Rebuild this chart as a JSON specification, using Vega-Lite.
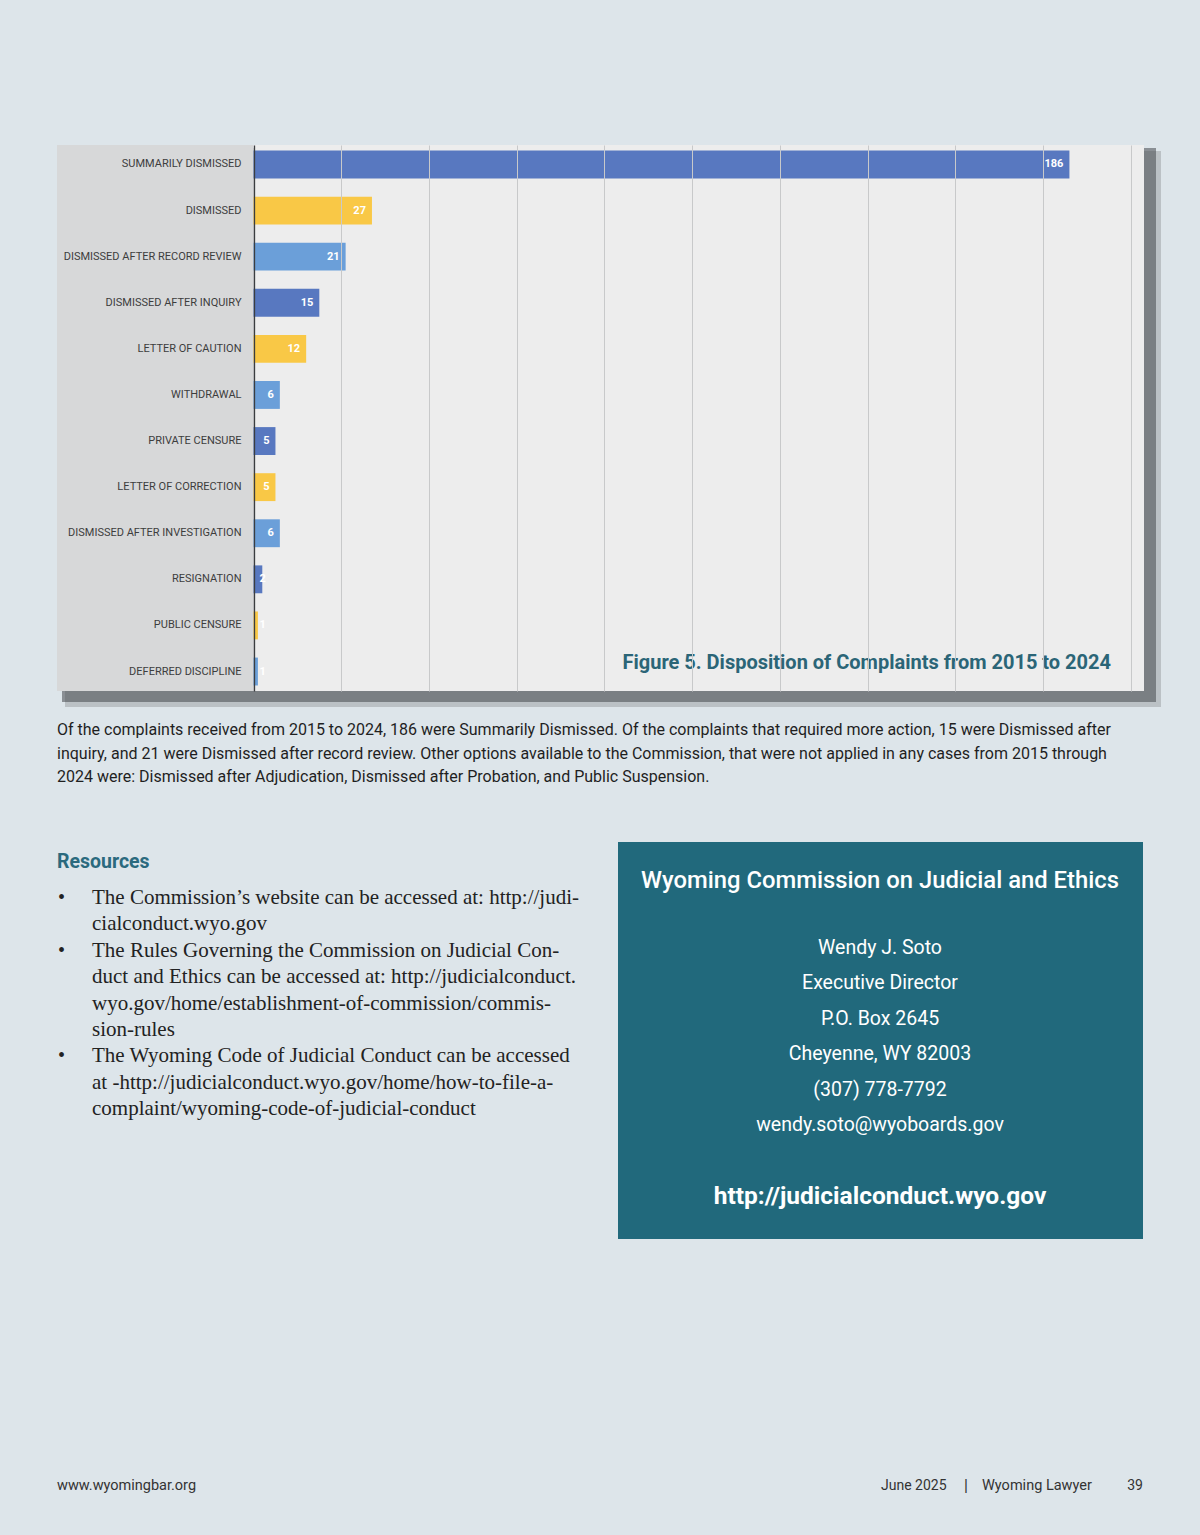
{
  "$schema": "https://vega.github.io/schema/vega-lite/v6.json",
  "autosize": {"type": "none"},
  "width": 1087,
  "height": 546,
  "padding": {"left": 57, "top": 145, "right": 56, "bottom": 844},
  "background": "#dde5ea",
  "config": {"view": {"stroke": null}},
  "data": {"values": [
    {"category": "SUMMARILY DISMISSED", "count": 186},
    {"category": "DISMISSED", "count": 27},
    {"category": "DISMISSED AFTER RECORD REVIEW", "count": 21},
    {"category": "DISMISSED AFTER INQUIRY", "count": 15},
    {"category": "LETTER OF CAUTION", "count": 12},
    {"category": "WITHDRAWAL", "count": 6},
    {"category": "PRIVATE CENSURE", "count": 5},
    {"category": "LETTER OF CORRECTION", "count": 5},
    {"category": "DISMISSED AFTER INVESTIGATION", "count": 6},
    {"category": "RESIGNATION", "count": 2},
    {"category": "PUBLIC CENSURE", "count": 1},
    {"category": "DEFERRED DISCIPLINE", "count": 1}
  ]},
  "layer": [
    {
      "data": {"values": [{}]},
      "mark": {"type": "rect", "color": "#7a7d81", "opacity": 0.35},
      "encoding": {"x": {"value": 8}, "x2": {"value": 1104}, "y": {"value": 6}, "y2": {"value": 562}}
    },
    {
      "data": {"values": [{}]},
      "mark": {"type": "rect", "color": "#45484c", "opacity": 0.55},
      "encoding": {"x": {"value": 5}, "x2": {"value": 1099}, "y": {"value": 3}, "y2": {"value": 557}}
    },
    {
      "data": {"values": [{}]},
      "mark": {"type": "rect", "color": "#d7d8d9"},
      "encoding": {"x": {"value": 0}, "x2": {"value": 196.5}, "y": {"value": 0}, "y2": {"value": 546}}
    },
    {
      "data": {"values": [{}]},
      "mark": {"type": "rect", "color": "#ededed"},
      "encoding": {"x": {"value": 196.5}, "x2": {"value": 1087}, "y": {"value": 0}, "y2": {"value": 546}}
    },
    {
      "data": {"values": [{}]},
      "mark": {"type": "rect", "color": "#21697c"},
      "encoding": {"x": {"value": 561}, "x2": {"value": 1086}, "y": {"value": 697}, "y2": {"value": 1094}}
    },
    {
      "mark": {"type": "bar"},
      "encoding": {
        "y": {"field": "category", "type": "nominal", "sort": null, "axis": null,
          "scale": {"type": "band", "paddingInner": 0.395, "paddingOuter": 0.12}},
        "x": {"field": "count", "type": "quantitative",
          "scale": {"domain": [-44.8, 203], "nice": false},
          "axis": {"values": [0, 20, 40, 60, 80, 100, 120, 140, 160, 180, 200], "grid": true, "labels": false, "ticks": false, "domain": false, "title": null, "zindex": 1,
            "gridColor": {"condition": {"test": "datum.value === 0", "value": "#3a3d40"}, "value": "#c8c9ca"},
            "gridWidth": {"condition": {"test": "datum.value === 0", "value": 1.3}, "value": 1}, "gridOpacity": 1}},
        "color": {"field": "category", "type": "nominal", "legend": null,
          "scale": {"domain": ["SUMMARILY DISMISSED", "DISMISSED", "DISMISSED AFTER RECORD REVIEW", "DISMISSED AFTER INQUIRY", "LETTER OF CAUTION", "WITHDRAWAL", "PRIVATE CENSURE", "LETTER OF CORRECTION", "DISMISSED AFTER INVESTIGATION", "RESIGNATION", "PUBLIC CENSURE", "DEFERRED DISCIPLINE"],
            "range": ["#5878c0", "#f9c846", "#6b9fd9", "#5878c0", "#f9c846", "#6b9fd9", "#5878c0", "#f9c846", "#6b9fd9", "#5878c0", "#f9c846", "#6b9fd9"]}}
      }
    },
    {
      "transform": [{"filter": "datum.count >= 5"}],
      "mark": {"type": "text", "align": "right", "baseline": "middle", "dx": -6, "color": "#ffffff", "font": "Roboto", "fontWeight": "bold", "fontSize": 11},
      "encoding": {
        "y": {"field": "category", "type": "nominal", "sort": null},
        "x": {"field": "count", "type": "quantitative"},
        "text": {"field": "count", "type": "quantitative"}
      }
    },
    {
      "mark": {"type": "text", "align": "left", "baseline": "middle", "x": 196.5, "dx": 6, "color": "#ffffff", "font": "Roboto", "fontWeight": "bold", "fontSize": 11},
      "encoding": {
        "y": {"field": "category", "type": "nominal", "sort": null},
        "text": {"condition": {"test": "datum.count < 5", "field": "count", "type": "quantitative"}, "value": ""}
      }
    },
    {
      "mark": {"type": "text", "align": "right", "baseline": "middle", "x": 196.5, "dx": -12, "color": "#3d3d3d", "font": "Roboto", "fontSize": 11},
      "encoding": {
        "y": {"field": "category", "type": "nominal", "sort": null},
        "text": {"field": "category", "type": "nominal"}
      }
    },
    {
      "data": {"values": [{}]},
      "mark": {"type": "text", "align": "right", "baseline": "alphabetic", "x": 1054, "y": 524, "color": "#2b6577", "font": "Roboto", "fontWeight": "bold", "fontSize": 20, "text": "Figure 5. Disposition of Complaints from 2015 to 2024"},
      "encoding": {}
    },
    {
      "data": {"values": [{}]},
      "mark": {"type": "text", "align": "left", "baseline": "alphabetic", "x": 0, "y": 590, "lineHeight": 23.5, "color": "#1f1f1f", "font": "Roboto", "fontSize": 16,
        "text": ["Of the complaints received from 2015 to 2024, 186 were Summarily Dismissed. Of the complaints that required more action, 15 were Dismissed after", "inquiry, and 21 were Dismissed after record review. Other options available to the Commission, that were not applied in any cases from 2015 through", "2024 were: Dismissed after Adjudication, Dismissed after Probation, and Public Suspension."]},
      "encoding": {}
    },
    {
      "data": {"values": [{}]},
      "mark": {"type": "text", "align": "left", "baseline": "alphabetic", "x": 0, "y": 723, "color": "#2b6a7e", "font": "Roboto", "fontWeight": "bold", "fontSize": 19.5, "text": "Resources"},
      "encoding": {}
    },
    {
      "data": {"values": [{}]},
      "mark": {"type": "text", "align": "left", "baseline": "alphabetic", "x": 1, "y": 759, "color": "#222222", "font": "Liberation Serif", "fontSize": 20, "text": "•"},
      "encoding": {}
    },
    {
      "data": {"values": [{}]},
      "mark": {"type": "text", "align": "left", "baseline": "alphabetic", "x": 1, "y": 811.8, "color": "#222222", "font": "Liberation Serif", "fontSize": 20, "text": "•"},
      "encoding": {}
    },
    {
      "data": {"values": [{}]},
      "mark": {"type": "text", "align": "left", "baseline": "alphabetic", "x": 1, "y": 917.4, "color": "#222222", "font": "Liberation Serif", "fontSize": 20, "text": "•"},
      "encoding": {}
    },
    {
      "data": {"values": [{}]},
      "mark": {"type": "text", "align": "left", "baseline": "alphabetic", "x": 35, "y": 759, "lineHeight": 26.4, "color": "#222222", "font": "Liberation Serif", "fontSize": 21,
        "text": ["The Commission’s website can be accessed at: http://judi-", "cialconduct.wyo.gov", "The Rules Governing the Commission on Judicial Con-", "duct and Ethics can be accessed at: http://judicialconduct.", "wyo.gov/home/establishment-of-commission/commis-", "sion-rules", "The Wyoming Code of Judicial Conduct can be accessed", "at    -http://judicialconduct.wyo.gov/home/how-to-file-a-", "complaint/wyoming-code-of-judicial-conduct"]},
      "encoding": {}
    },
    {
      "data": {"values": [{}]},
      "mark": {"type": "text", "align": "center", "baseline": "alphabetic", "x": 823, "y": 743, "color": "#ffffff", "font": "Roboto", "fontWeight": 500, "fontSize": 23.8, "text": "Wyoming Commission on Judicial and Ethics"},
      "encoding": {}
    },
    {
      "data": {"values": [{}]},
      "mark": {"type": "text", "align": "center", "baseline": "alphabetic", "x": 823, "y": 809, "lineHeight": 35.4, "color": "#ffffff", "font": "Roboto", "fontSize": 19.5,
        "text": ["Wendy J. Soto", "Executive Director", "P.O. Box 2645", "Cheyenne, WY 82003", "(307) 778-7792", "wendy.soto@wyoboards.gov"]},
      "encoding": {}
    },
    {
      "data": {"values": [{}]},
      "mark": {"type": "text", "align": "center", "baseline": "alphabetic", "x": 823, "y": 1059, "color": "#ffffff", "font": "Roboto", "fontWeight": "bold", "fontSize": 24.5, "text": "http://judicialconduct.wyo.gov"},
      "encoding": {}
    },
    {
      "data": {"values": [{}]},
      "mark": {"type": "text", "align": "left", "baseline": "alphabetic", "x": 0, "y": 1345, "color": "#333333", "font": "Roboto", "fontSize": 14.5, "text": "www.wyomingbar.org"},
      "encoding": {}
    },
    {
      "data": {"values": [{}]},
      "mark": {"type": "text", "align": "left", "baseline": "alphabetic", "x": 824, "y": 1345, "color": "#333333", "font": "Roboto", "fontSize": 14, "text": "June  2025"},
      "encoding": {}
    },
    {
      "data": {"values": [{}]},
      "mark": {"type": "text", "align": "center", "baseline": "alphabetic", "x": 909, "y": 1346, "color": "#333333", "font": "Roboto", "fontSize": 16, "text": "|"},
      "encoding": {}
    },
    {
      "data": {"values": [{}]},
      "mark": {"type": "text", "align": "left", "baseline": "alphabetic", "x": 925, "y": 1345, "color": "#333333", "font": "Roboto", "fontSize": 14.5, "text": "Wyoming Lawyer"},
      "encoding": {}
    },
    {
      "data": {"values": [{}]},
      "mark": {"type": "text", "align": "right", "baseline": "alphabetic", "x": 1086, "y": 1345, "color": "#333333", "font": "Roboto", "fontSize": 14, "text": "39"},
      "encoding": {}
    }
  ]
}
